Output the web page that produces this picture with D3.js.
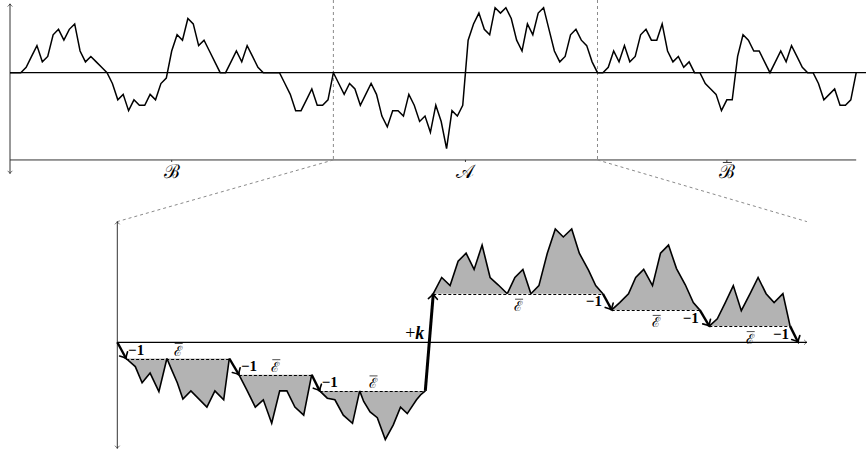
<!DOCTYPE html>
<html>
<head>
<meta charset="utf-8">
<script src="https://cdn.jsdelivr.net/npm/d3@7"></script>
<style>
  body { margin: 0; background: #fff; }
  svg { display: block; }
</style>
</head>
<body>
<script>
// top walk, one value per unit step (B, then A, then B-bar)
const walkB = [0, 0, 0, 1, 3, 5, 2, 3, 7, 8, 6, 8, 9, 4, 2, 3, 2, 1, 0, -2,
  -5, -4, -7, -5, -6, -6, -4, -5, -2, -1, 4, 7, 6, 10, 9, 5, 6, 4, 2, 0,
  0, 2, 4, 2, 5, 3, 1, 0, 0, 0, 0, -2, -4, -7, -7, -5, -3, -6, -6, -5, 0]
const walkA = [0, -2, -4, -2, -3, -6, -4, -2, -4, -8, -10, -7, -7, -8, -4, -6, -9, -8, -11, -6,
  -9, -14, -7, -8, -6, 6, 9, 11, 8, 7, 12, 11, 12, 10, 6, 4, 9, 7, 11, 12,
  8, 4, 2, 3, 7, 8, 6, 5, 2, 0]
const walkBbar = [0, 0, 1, 4, 2, 5, 2, 3, 7, 8, 6, 6, 9, 4, 2, 3, 1, 2, 0, 0,
  -2, -3, -4, -7, -5, -5, 3, 7, 6, 4, 4, 2, 0, 2, 4, 2, 5, 3, 1, 0,
  0, -2, -5, -4, -3, -6, -6, -5, 0]
const segmentStarts = [0, 60, 109, 157]
const segmentLabels = ['ℬ', '𝒜', 'ℬ']
const segmentBar = [false, false, true]

// zoomed walk: level runs [start, end, level]
const runs = [[1.1, 14, -2], [15.2, 24.3, -4], [25.3, 38.5, -6],
  [39.5, 60.7, 6], [61.8, 72.8, 4], [74, 84.1, 2]]
const walkStart = [0, 0]
const walkEnd = [85.1, 0]
const stepLabels = ['−1', '−1', '−1', '+k', '−1', '−1', '−1']

// excursions above / below each level, [t, v]
const excursions = [
  [[1.1, -2], [2.25, -3], [3.1, -5], [4.1, -3.8], [5.2, -6.1], [6.2, -2]],
  [[6.2, -2], [6.8, -3.4], [7.5, -5], [8.2, -7], [9.2, -6], [11.2, -8], [12.2, -6], [13.3, -7.1], [14, -2]],
  [[15.2, -4], [16.2, -5.9], [17.25, -8], [18.25, -7.1], [19.3, -10], [20.3, -6], [21.2, -6], [22.2, -8], [23.3, -9], [24.3, -4]],
  [[25.3, -6], [26.25, -6.9], [27.2, -7.1], [28.25, -9], [29.4, -10], [30.3, -6]],
  [[30.3, -6], [30.8, -7.3], [31.6, -8.6], [32.5, -9.3], [33.5, -12], [34.5, -10.2], [35.4, -8], [36.25, -8.8], [37.4, -7.1], [37.9, -6.5], [38.5, -6]],
  [[39.5, 6], [40.55, 8], [41.6, 7], [42.6, 10], [43.6, 11], [44.6, 9], [45.6, 12], [46.6, 8], [47.6, 7.1], [48.75, 6]],
  [[48.75, 6], [49.7, 8], [50.7, 9], [51.7, 6]],
  [[51.7, 6], [52.7, 7], [53.75, 11], [54.75, 14], [55.75, 13], [56.8, 14], [57.75, 11], [58.9, 8.9], [59.8, 7], [60.7, 6]],
  [[61.8, 4], [62.8, 4.9], [63.9, 6], [64.8, 8], [65.8, 9], [66.9, 7], [67.9, 11], [68.9, 12], [69.9, 9.1], [71, 7.1], [72, 4.9], [72.8, 4]],
  [[74, 2], [75, 2.9], [76, 4.9], [77, 7], [78, 3.9], [79.1, 6], [80.1, 8], [81.1, 6], [82.1, 4.9], [83.2, 6], [84.1, 2]]
]
const excRun = [0, 0, 1, 2, 2, 3, 3, 3, 4, 5]

const width = 866, height = 454
const svg = d3.select('body').append('svg')
    .attr('width', width)
    .attr('height', height)

const defs = svg.append('defs')
function addMarker(id, size, sw) {
    defs.append('marker')
        .attr('id', id)
        .attr('viewBox', '-10 -10 20 20')
        .attr('markerUnits', 'userSpaceOnUse')
        .attr('markerWidth', size)
        .attr('markerHeight', size)
        .attr('refX', 0).attr('refY', 0)
        .attr('orient', 'auto-start-reverse')
        .append('path')
        .attr('d', 'M-7,-6 Q-2.5,-1.2 0,0 Q-2.5,1.2 -7,6')
        .attr('fill', 'none')
        .attr('stroke', 'black')
        .attr('stroke-width', sw)
        .attr('stroke-linecap', 'round')
}
addMarker('tip', 7, 1.6)
addMarker('tipBold', 15, 2.2)

// ---------- top panel ----------
const xTop = d3.scaleLinear().domain([0, 157]).range([10, 856.2])
const yTop = d3.scaleLinear().domain([0, 10]).range([72.7, 18.5])
const bottomV = -16.1

const topWalk = []
walkB.forEach((v, i) => topWalk.push([segmentStarts[0] + i, v]))
walkA.slice(1).forEach((v, i) => topWalk.push([segmentStarts[1] + i + 1, v]))
walkBbar.slice(1).forEach((v, i) => topWalk.push([segmentStarts[2] + i + 1, v]))

const gTop = svg.append('g')

gTop.selectAll('.sep')
    .data(segmentStarts.slice(1, 3))
    .enter().append('line')
    .attr('x1', d => xTop(d)).attr('x2', d => xTop(d))
    .attr('y1', 0).attr('y2', yTop(bottomV))
    .attr('stroke', '#8a8a8a')
    .attr('stroke-dasharray', '3,3')

gTop.append('line')
    .attr('x1', xTop(0)).attr('x2', xTop(0))
    .attr('y1', yTop(12.7)).attr('y2', yTop(-18.6))
    .attr('stroke', '#333').attr('stroke-width', 1)
    .attr('marker-start', 'url(#tip)').attr('marker-end', 'url(#tip)')

gTop.append('line')
    .attr('x1', xTop(0)).attr('x2', xTop(159))
    .attr('y1', yTop(0)).attr('y2', yTop(0))
    .attr('stroke', 'black').attr('stroke-width', 1.2)

gTop.append('line')
    .attr('x1', xTop(0)).attr('x2', xTop(157))
    .attr('y1', yTop(bottomV)).attr('y2', yTop(bottomV))
    .attr('stroke', '#333').attr('stroke-width', 1)

const mids = segmentLabels.map((s, i) => (segmentStarts[i] + segmentStarts[i + 1]) / 2)
gTop.selectAll('.tick')
    .data(mids)
    .enter().append('line')
    .attr('x1', d => xTop(d)).attr('x2', d => xTop(d))
    .attr('y1', yTop(bottomV)).attr('y2', yTop(bottomV) + 2)
    .attr('stroke', '#333')

gTop.selectAll('.seglabel')
    .data(segmentLabels)
    .enter().append('text')
    .attr('x', (d, i) => xTop(mids[i]))
    .attr('y', yTop(bottomV) + 18)
    .attr('text-anchor', 'middle')
    .style('font-family', 'DejaVu Serif, serif')
    .style('font-size', '19px')
    .style('font-weight', 'normal')
    .text(d => d)

gTop.selectAll('.segbar')
    .data(segmentBar.map((b, i) => [b, mids[i]]).filter(d => d[0]))
    .enter().append('line')
    .attr('x1', d => xTop(d[1]) - 4).attr('x2', d => xTop(d[1]) + 5)
    .attr('y1', yTop(bottomV) + 2.5).attr('y2', yTop(bottomV) + 2.5)
    .attr('stroke', 'black').attr('stroke-width', 0.8)

gTop.append('path')
    .datum(topWalk)
    .attr('d', d3.line().x(d => xTop(d[0])).y(d => yTop(d[1])))
    .attr('fill', 'none')
    .attr('stroke', 'black')
    .attr('stroke-width', 1.5)
    .attr('stroke-linejoin', 'miter')

// ---------- zoomed panel ----------
const xBot = d3.scaleLinear().domain([0, 10]).range([117.3, 197.3])
const yBot = d3.scaleLinear().domain([0, 10]).range([342.3, 261.3])

// links from the A piece to the zoom
gTop.selectAll('.link')
    .data([[segmentStarts[1], 0], [segmentStarts[2], 86.2]])
    .enter().append('line')
    .attr('x1', d => xTop(d[0])).attr('y1', yTop(bottomV))
    .attr('x2', d => xBot(d[1])).attr('y2', yBot(14.9))
    .attr('stroke', '#8a8a8a')
    .attr('stroke-dasharray', '3,3')

const gBot = svg.append('g')

gBot.selectAll('.exc')
    .data(excursions)
    .enter().append('path')
    .attr('d', (d, i) => d3.area()
        .x(p => xBot(p[0]))
        .y0(yBot(runs[excRun[i]][2]))
        .y1(p => yBot(p[1]))(d))
    .attr('fill', '#b3b3b3')

gBot.selectAll('.level')
    .data(runs)
    .enter().append('line')
    .attr('x1', d => xBot(d[0])).attr('x2', d => xBot(d[1]))
    .attr('y1', d => Math.round(yBot(d[2])) + 0.5).attr('y2', d => Math.round(yBot(d[2])) + 0.5)
    .attr('stroke', 'black').attr('stroke-width', 1.1)
    .attr('stroke-dasharray', '3,2')

gBot.append('line')
    .attr('x1', xBot(0)).attr('x2', xBot(0))
    .attr('y1', yBot(14.9)).attr('y2', yBot(-13.1))
    .attr('stroke', '#333').attr('stroke-width', 1)
    .attr('marker-start', 'url(#tip)').attr('marker-end', 'url(#tip)')

gBot.append('line')
    .attr('x1', xBot(0)).attr('x2', xBot(86.2))
    .attr('y1', yBot(0)).attr('y2', yBot(0))
    .attr('stroke', 'black').attr('stroke-width', 1.2)
    .attr('marker-end', 'url(#tip)')

gBot.selectAll('.walk')
    .data(excursions)
    .enter().append('path')
    .attr('d', d3.line().x(p => xBot(p[0])).y(p => yBot(p[1])))
    .attr('fill', 'none')
    .attr('stroke', 'black')
    .attr('stroke-width', 1.6)

// steps between runs
const stepPts = [walkStart].concat(...runs.map(r => [[r[0], r[2]], [r[1], r[2]]]), [walkEnd])
const steps = []
for (let i = 0; i < stepPts.length; i += 2) steps.push([stepPts[i], stepPts[i + 1]])

gBot.selectAll('.step')
    .data(steps)
    .enter().append('line')
    .attr('x1', d => xBot(d[0][0])).attr('y1', d => yBot(d[0][1]))
    .attr('x2', d => xBot(d[1][0])).attr('y2', d => yBot(d[1][1]))
    .attr('stroke', 'black')
    .attr('stroke-width', (d, i) => stepLabels[i] === '+k' ? 3 : 2.4)
    .attr('marker-end', 'url(#tipBold)')

gBot.selectAll('.steplabel')
    .data(steps)
    .enter().append('text')
    .each(function(d, i) {
        const t = d3.select(this)
        const midY = (yBot(d[0][1]) + yBot(d[1][1])) / 2
        if (stepLabels[i] === '+k') {
            const tc = d[0][0] + (d[1][0] - d[0][0]) * (0 - d[0][1]) / (d[1][1] - d[0][1])
            t.attr('x', xBot(tc) - 5).attr('y', yBot(0) - 3).attr('text-anchor', 'end')
                .style('font-size', '18px')
            t.append('tspan').text('+')
            t.append('tspan').style('font-weight', 'bold').style('font-style', 'italic').text('k')
        } else if (d[0][1] <= 0 && d[1][1] < 0) {
            t.attr('x', xBot(d[1][0]) + 2).attr('y', midY + 4.5).attr('text-anchor', 'start')
                .style('font-size', '15px')
                .style('font-weight', 'bold').text(stepLabels[i])
        } else {
            t.attr('x', xBot(d[0][0]) - 1).attr('y', midY + 4.5).attr('text-anchor', 'end')
                .style('font-size', '15px')
                .style('font-weight', 'bold').text(stepLabels[i])
        }
    })
    .style('font-family', 'Liberation Serif, serif')

// E-bar labels on every level run
const eLabels = gBot.selectAll('.elabel')
    .data(runs)
    .enter().append('g')
    .attr('transform', d => {
        const x = xBot((d[0] + d[1]) / 2)
        const y = d[2] < 0 ? yBot(d[2]) - 3 : yBot(d[2]) + 17.5
        return 'translate(' + x + ',' + y + ')'
    })
eLabels.append('text')
    .attr('text-anchor', 'middle')
    .style('font-family', 'DejaVu Serif, serif')
    .style('font-size', '14px')
    .text('ℰ')
eLabels.append('line')
    .attr('x1', -3).attr('x2', 5)
    .attr('y1', -12).attr('y2', -12)
    .attr('stroke', 'black').attr('stroke-width', 0.7)
</script>
</body>
</html>
